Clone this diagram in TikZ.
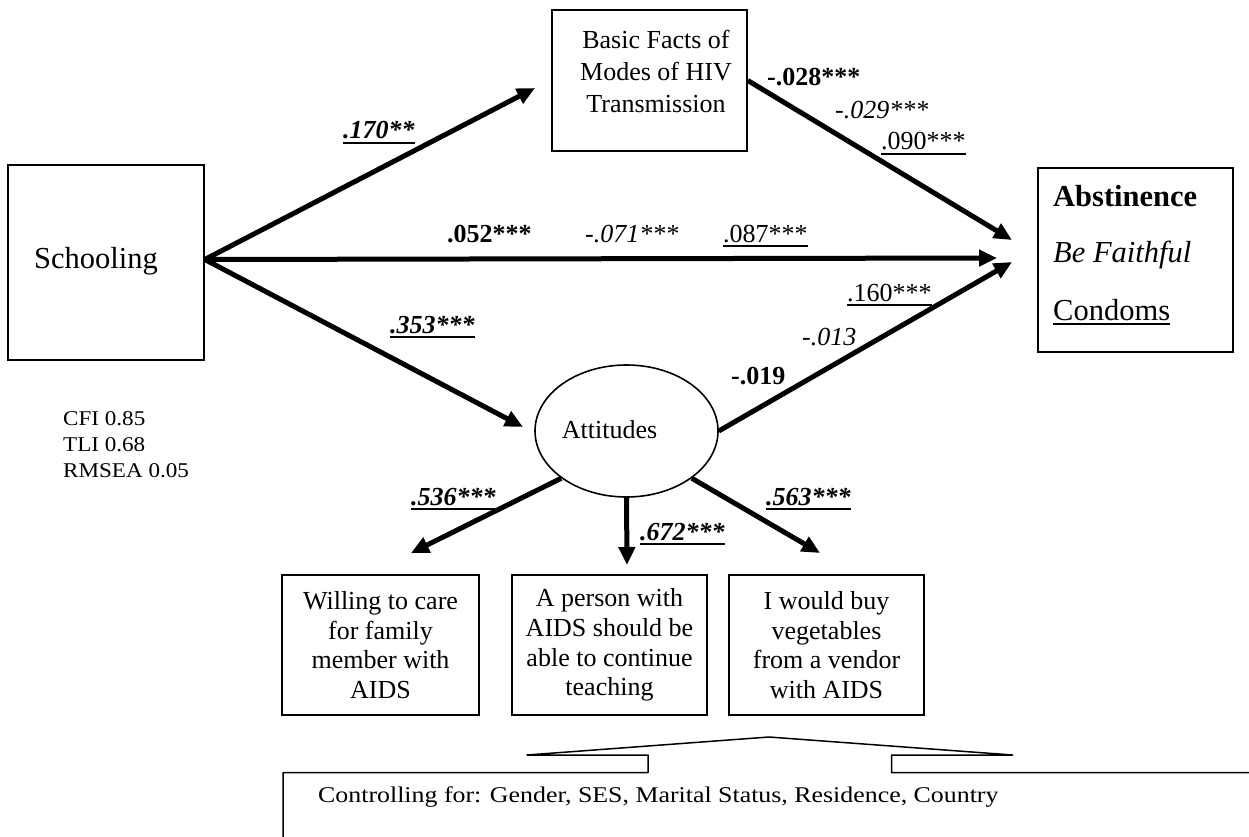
\documentclass[tikz,border=0pt]{standalone}
\usepackage{fontspec}
\setmainfont{Liberation Serif}
\newfontfamily\cfifont[FakeStretch=1.1]{Liberation Serif}
\newfontfamily\ctrlfont[FakeStretch=1.15]{Liberation Serif}
\usetikzlibrary{arrows.meta,shapes.geometric}
\newsavebox\ulbox
\newcommand\ulx[1]{\sbox\ulbox{#1}\rlap{\rule[-5pt]{\wd\ulbox}{2pt}}\usebox\ulbox}
\begin{document}
\begin{tikzpicture}[x=1pt,y=-1pt,
  box/.style={draw, line width=1.6pt, inner sep=0pt},
  arr/.style={line width=5pt, -{Triangle[length=18pt,width=16pt]}},
  lbl/.style={inner sep=0pt, anchor=base west, font=\fontsize{26}{30}\selectfont},
  big/.style={inner sep=0pt, anchor=base west, font=\fontsize{30.5}{36}\selectfont},
  cfi/.style={inner sep=0pt, anchor=base west, font=\cfifont\fontsize{21}{26}\selectfont},
  ctrl/.style={inner sep=0pt, anchor=base west, font=\ctrlfont\fontsize{22.5}{26}\selectfont},
  leaf/.style={box, minimum height=140pt, align=center, font=\fontsize{26}{29.7}\selectfont}]
\useasboundingbox (0,0) rectangle (1249,837);

% main boxes
\node[box, minimum width=196pt, minimum height=195pt] (school) at (106,262.5) {};
\node[big] (schooltxt) at (34,268) {Schooling};

\node[box, minimum width=195pt, minimum height=141pt] (basic) at (649.5,80.5) {};
\node[align=center, inner sep=0pt, font=\fontsize{26}{32}\selectfont] (basictxt) at (656,71) {Basic Facts of\\Modes of HIV\\Transmission};

\node[box, minimum width=195pt, minimum height=184pt] (abst) at (1135.5,260) {};
\node[big] (abst1) at (1053,206) {\bfseries Abstinence};
\node[big] (abst2) at (1053,262) {\itshape Be Faithful};
\node[big] (abst3) at (1053,320) {\ulx{Condoms}};

\node[draw, ellipse, line width=1.6pt, minimum width=183pt, minimum height=132pt, inner sep=0pt] (att) at (626.5,431) {};
\node[lbl] (atttxt) at (561.7,438) {Attitudes};

\node[leaf, minimum width=197pt] (willing) at (380.5,645) {Willing to care\\for family\\member with\\AIDS};
\node[leaf, minimum width=195pt] (person) at (609.5,645) {A person with\\AIDS should be\\able to continue\\teaching};
\node[leaf, minimum width=195pt] (buy) at (826.5,645) {I would buy\\vegetables\\from a vendor\\with AIDS};

% arrow ends
\coordinate (s0) at ([yshift=3pt]school.east);
\coordinate (t1) at (535,88);
\coordinate (t2) at (997,258);
\coordinate (t3) at (523,427);
\coordinate (t4) at (1012,240);
\coordinate (t5) at (1012,262);
\coordinate (t6) at (411,553);
\coordinate (t7) at (627,565);
\coordinate (t8) at (820,553);

\draw[arr] (s0) -- (t1);
\draw[arr] (s0) -- (t2);
\draw[arr] (s0) -- (t3);
\draw[arr] (basic.east) -- (t4);
\draw[arr] (att.east) -- (t5);
\draw[arr] (att.south west) -- (t6);
\draw[arr] (att.south) -- (t7);
\draw[arr] (att.south east) -- (t8);

% path labels
\node[lbl] (l170) at (343,139) {\ulx{\bfseries\itshape .170**}};
\node[lbl] (l052) at (447,242) {\bfseries .052***};
\node[lbl] (l071) at (585,242) {\itshape -.071***};
\node[lbl] (l087) at (723,242) {\ulx{.087***}};
\node[lbl] (l028) at (767,86) {\bfseries -.028***};
\node[lbl] (l029) at (835,119) {\itshape -.029***};
\node[lbl] (l090) at (881,150) {\ulx{.090***}};
\node[lbl] (l353) at (390,333) {\ulx{\bfseries\itshape .353***}};
\node[lbl] (l160) at (847,301) {\ulx{.160***}};
\node[lbl] (l013) at (802,345) {\itshape -.013};
\node[lbl] (l019) at (731,384) {\bfseries -.019};
\node[lbl] (l536) at (411,505) {\ulx{\bfseries\itshape .536***}};
\node[lbl] (l672) at (640,540) {\ulx{\bfseries\itshape .672***}};
\node[lbl] (l563) at (766,505) {\ulx{\bfseries\itshape .563***}};

% fit indices
\node[cfi] (cfi) at (63,425) {CFI 0.85};
\node[cfi] (tli) at (63,451) {TLI 0.68};
\node[cfi] (rmsea) at (63,477) {RMSEA 0.05};

% callout
\draw[line width=1.5pt, line join=round] (283,845) -- (283,772.7) -- (648,772.7) -- (648,755) -- (527,755) -- (769,737) -- (1012.5,755) -- (891.5,755) -- (891.5,772.7) -- (1255,772.7);
\node[ctrl] (ctrl) at (318,802) {Controlling for: Gender, SES, Marital Status, Residence, Country};
\end{tikzpicture}
\end{document}
